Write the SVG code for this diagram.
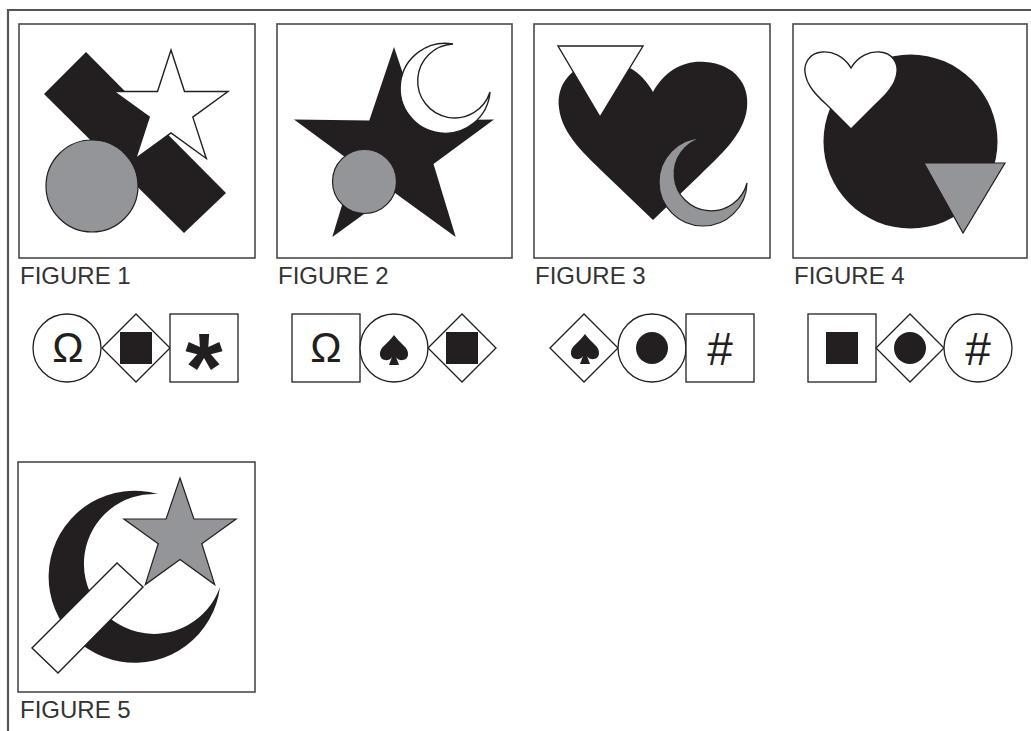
<svg xmlns="http://www.w3.org/2000/svg" width="1031" height="731" viewBox="0 0 1031 731">
<style>
.frame{fill:none;stroke:#555;stroke-width:2.2}
.box{fill:#fff;stroke:#4a4a4a;stroke-width:1.6}
.blk{fill:#231f20;stroke:none}
.gry{fill:#939598;stroke:#231f20;stroke-width:1.2}
.wht{fill:#fff;stroke:#231f20;stroke-width:1.4}
.sym{fill:#fff;stroke:#231f20;stroke-width:1.3}
.lbl{font-family:"Liberation Sans",Arial,sans-serif;font-size:24px;fill:#333}
.glyph{font-family:"Liberation Sans",Arial,sans-serif;fill:#231f20;text-anchor:middle}
</style>
<defs>
<path id="spade" d="M0 -15 C-6 -6 -15 -3 -14 5 C-13 11 -5 12 -2 7 L-5 15 L5 15 L2 7 C5 12 13 11 14 5 C15 -3 6 -6 0 -15 Z"/>
</defs>
<rect width="1031" height="731" fill="#fff"/>
<path class="frame" d="M8 731 V10 H1031"/>

<g id="figure1">
<rect class="box" x="19" y="24" width="236" height="234"/>
<polygon class="blk" points="86,52 226,193 184,233 44,94"/>
<polygon class="wht" points="171,50 184.5,91.5 228,91.5 192.8,117.1 206.3,158.5 171,132.9 135.7,158.5 149.2,117.1 114,91.5 157.5,91.5"/>
<circle class="gry" cx="92" cy="186" r="46"/>
<text class="lbl" x="20" y="284">FIGURE 1</text>
</g>

<g id="figure2">
<rect class="box" x="277" y="24" width="235" height="234"/>
<polygon class="blk" points="394,47 418.7,120.5 494,119.6 433.5,164.1 455.7,237 394,192.3 332.3,237 354.5,164.1 294,119.6 369.3,120.5"/>
<circle class="gry" cx="364.5" cy="181.5" r="32"/>
<path class="wht" d="M453 44 A45 45 0 1 0 490 92 A37 37 0 1 1 453 44 Z"/>
<text class="lbl" x="278" y="284">FIGURE 2</text>
</g>

<g id="figure3">
<rect class="box" x="534" y="24" width="236" height="234"/>
<path class="blk" d="M653 92 C665 70 685 60 705 62 C735 64 750 85 747 108 C744 135 720 155 700 175 L653 220 L606 175 C586 155 562 135 559 108 C556 85 571 64 601 62 C621 60 641 70 653 92 Z"/>
<polygon class="wht" points="558,46 643,46 600,117"/>
<path class="gry" d="M702 138 A44 44 0 1 0 747 183 A37 37 0 1 1 702 138 Z"/>
<text class="lbl" x="535" y="284">FIGURE 3</text>
</g>

<g id="figure4">
<rect class="box" x="793" y="24" width="234" height="234"/>
<circle class="blk" cx="910.5" cy="141.5" r="87"/>
<path class="wht" d="M851 68 C858 56 870 51 880 52 C893 53 898 64 897 72 C896 85 885 96 875 105 L851 129 L827 105 C817 96 806 85 805 72 C804 64 809 53 822 52 C832 51 844 56 851 68 Z"/>
<polygon class="gry" points="924,163 1005,163 963,233"/>
<text class="lbl" x="794" y="284">FIGURE 4</text>
</g>

<g id="figure5">
<rect class="box" x="18" y="462" width="237" height="230"/>
<path class="blk" d="M158 494 A86 86 0 1 0 220 587 A70 70 0 1 1 158 494 Z"/>
<polygon class="gry" points="180,478 193.9,518.9 236.1,519 201.8,543.7 214.7,584.6 180,559.5 145.3,584.6 158.2,543.7 123.9,519 166.1,518.9"/>
<polygon class="wht" points="117,563 143,587 58,673 32,648"/>
<text class="lbl" x="20" y="718">FIGURE 5</text>
</g>

<g id="symbols1">
<circle class="sym" cx="67" cy="348" r="34"/>
<text class="glyph" x="68" y="362" font-size="42">Ω</text>
<polygon class="sym" points="102,348 136,314 170,348 136,382"/>
<rect class="blk" x="120" y="332" width="32" height="32"/>
<rect class="sym" x="170" y="314" width="68" height="68"/>
<text class="glyph" x="204" y="400" font-size="96" font-weight="bold">*</text>
</g>

<g id="symbols2">
<rect class="sym" x="292" y="314" width="68" height="68"/>
<text class="glyph" x="326" y="362" font-size="42">Ω</text>
<circle class="sym" cx="394" cy="348" r="34"/>
<use href="#spade" x="394" y="350" class="blk"/>
<polygon class="sym" points="428,348 462,314 496,348 462,382"/>
<rect class="blk" x="446" y="332" width="32" height="32"/>
</g>

<g id="symbols3">
<polygon class="sym" points="550,348 584,314 618,348 584,382"/>
<use href="#spade" x="585" y="349" class="blk"/>
<circle class="sym" cx="652" cy="348" r="34"/>
<circle class="blk" cx="652" cy="348" r="16"/>
<rect class="sym" x="686" y="314" width="68" height="68"/>
<text class="glyph" x="720" y="365" font-size="46">#</text>
</g>

<g id="symbols4">
<rect class="sym" x="808" y="314" width="68" height="68"/>
<rect class="blk" x="826" y="332" width="32" height="32"/>
<polygon class="sym" points="876,348 910,314 944,348 910,382"/>
<circle class="blk" cx="910" cy="348" r="16"/>
<circle class="sym" cx="978" cy="348" r="34"/>
<text class="glyph" x="978" y="365" font-size="46">#</text>
</g>
</svg>
